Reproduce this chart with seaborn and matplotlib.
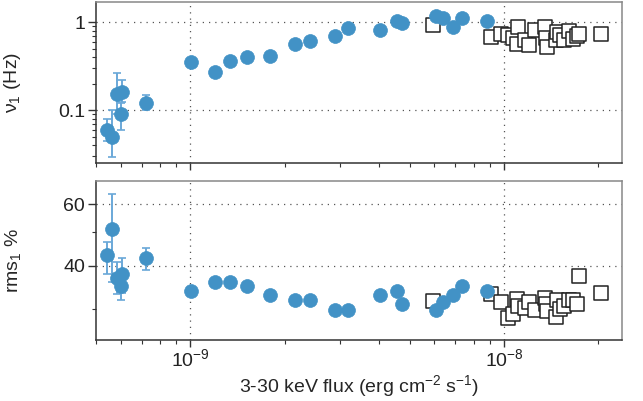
import numpy as np
import pandas as pd
import matplotlib
matplotlib.use("Agg")
import matplotlib.pyplot as plt
import seaborn as sns
from matplotlib.ticker import LogLocator, NullFormatter, FixedLocator

# ---- data: filled circles ----
flux_c = [5.42e-10, 5.61e-10, 5.83e-10, 6.03e-10, 5.99e-10, 7.22e-10, 1.005e-9, 1.20e-9,
          1.34e-9, 1.51e-9, 1.80e-9, 2.16e-9, 2.41e-9, 2.90e-9, 3.18e-9, 4.03e-9, 4.56e-9,
          4.72e-9, 6.09e-9, 6.39e-9, 6.90e-9, 7.34e-9, 8.85e-9]
nu_c = [0.060, 0.0497, 0.151, 0.160, 0.090, 0.119, 0.351, 0.270, 0.360, 0.40, 0.41, 0.562,
        0.608, 0.699, 0.87, 0.81, 1.03, 0.98, 1.18, 1.12, 0.885, 1.13, 1.02]
rms_c = [43.0, 51.0, 36.9, 38.0, 34.9, 42.0, 33.9, 35.9, 35.9, 34.9, 32.9, 32.0, 32.0, 29.9,
         29.9, 32.9, 33.9, 31.0, 29.9, 31.5, 32.9, 34.9, 33.9]

# error ranges for the first six circles
nu_lo = [0.045, 0.0295, 0.090, 0.124, 0.060, 0.100]
nu_hi = [0.080, 0.100, 0.261, 0.219, 0.120, 0.149]
rms_lo = [38.0, 36.0, 33.1, 33.5, 31.9, 38.9]
rms_hi = [46.9, 64.1, 41.0, 42.0, 37.5, 45.0]

# ---- data: open squares ----
flux_s = [5.94e-9, 9.09e-9, 9.78e-9, 1.030e-8, 1.066e-8, 1.104e-8, 1.112e-8, 1.167e-8,
          1.202e-8, 1.256e-8, 1.355e-8, 1.362e-8, 1.369e-8, 1.461e-8, 1.477e-8, 1.510e-8,
          1.555e-8, 1.610e-8, 1.665e-8, 1.715e-8, 1.740e-8, 2.041e-8]
nu_s = [0.925, 0.681, 0.731, 0.711, 0.667, 0.570, 0.877, 0.624, 0.544, 0.811, 0.877, 0.670,
        0.527, 0.624, 0.770, 0.711, 0.624, 0.80, 0.650, 0.693, 0.744, 0.740]
rms_s = [31.7, 33.2, 31.5, 28.3, 29.0, 32.1, 30.7, 30.2, 31.4, 29.9, 32.4, 31.0, 29.7, 28.5,
         31.9, 30.0, 30.7, 31.9, 31.9, 31.0, 37.4, 33.5]

df_c = pd.DataFrame({"flux": flux_c, "nu": nu_c, "rms": rms_c})
df_s = pd.DataFrame({"flux": flux_s, "nu": nu_s, "rms": rms_s})
n_err = len(nu_lo)

sns.set_style("ticks")
plt.rcParams["font.family"] = ["Liberation Sans", "DejaVu Sans"]
plt.rcParams["mathtext.fontset"] = "custom"
plt.rcParams["mathtext.rm"] = "Liberation Sans"
plt.rcParams["mathtext.it"] = "Liberation Sans:italic"
plt.rcParams["mathtext.bf"] = "Liberation Sans:bold"

BLUE = "#4292c6"
EBLUE = "#6aa8d8"

fig = plt.figure(figsize=(6.43, 4.01), dpi=100)
ax1 = fig.add_axes([96 / 643, 1 - 163 / 401, 526 / 643, 161 / 401])
ax2 = fig.add_axes([96 / 643, 1 - 340 / 401, 526 / 643, 159 / 401])

for ax, col, lo, hi in [(ax1, "nu", nu_lo, nu_hi), (ax2, "rms", rms_lo, rms_hi)]:
    ax.set_xscale("log")
    ax.set_yscale("log")
    yv = np.array(df_c[col][:n_err])
    ax.errorbar(df_c["flux"][:n_err], yv,
                yerr=[yv - np.array(lo), np.array(hi) - yv],
                fmt="none", ecolor=EBLUE, elinewidth=1.4, capsize=2.6, capthick=1.2,
                zorder=2)
    sns.scatterplot(data=df_s, x="flux", y=col, ax=ax, marker="s", s=100,
                    facecolor="white", edgecolor="#222222", linewidth=1.1, zorder=3,
                    legend=False)
    sns.scatterplot(data=df_c, x="flux", y=col, ax=ax, marker="o", s=100,
                    color=BLUE, edgecolor=BLUE, linewidth=0.5, zorder=4, legend=False)
    ax.set_xlim(5e-10, 2.38e-8)
    ax.xaxis.set_major_locator(LogLocator(base=10, numticks=10))
    ax.xaxis.set_minor_locator(LogLocator(base=10, subs=np.arange(2, 10), numticks=20))
    ax.xaxis.set_minor_formatter(NullFormatter())
    ax.yaxis.set_minor_formatter(NullFormatter())
    ax.grid(True, which="major", linestyle=(0, (1, 4)), color="#555555", linewidth=0.9)
    ax.set_axisbelow(True)
    ax.tick_params(which="major", direction="out", length=6, width=1.0, color="#333333",
                   labelsize=14, colors="#222222", pad=2)
    ax.tick_params(which="minor", direction="out", length=3, width=0.8, color="#333333")
    ax.tick_params(axis="x", which="major", length=5, pad=1)
    for s in ["left", "bottom"]:
        ax.spines[s].set_color("#333333")
        ax.spines[s].set_linewidth(1.1)
    for s in ["top", "right"]:
        ax.spines[s].set_color("#888888")
        ax.spines[s].set_linewidth(1.1)

ax1.set_ylim(0.025, 1.7)
ax1.set_yticks([0.1, 1], ["0.1", "1"])
ax1.yaxis.set_minor_locator(LogLocator(base=10, subs=np.arange(2, 10), numticks=20))
ax1.tick_params(axis="x", which="both", labelbottom=False)
ax1.set_xlabel("")
ax1.set_ylabel("ν$_1$ (Hz)", fontsize=14)
ax1.yaxis.set_label_coords(-0.139, 0.5)

ax2.set_ylim(24.5, 70)
ax2.set_yticks([40, 60], ["40", "60"])
ax2.yaxis.set_minor_locator(FixedLocator([30, 50]))
ax2.set_ylabel("rms$_1$ %", fontsize=14)
ax2.yaxis.set_label_coords(-0.139, 0.5)
ax2.set_xlabel("3-30 keV flux (erg cm$^{-2}$ s$^{-1}$)", fontsize=14, labelpad=2)

fig.savefig("out.png", dpi=100)
